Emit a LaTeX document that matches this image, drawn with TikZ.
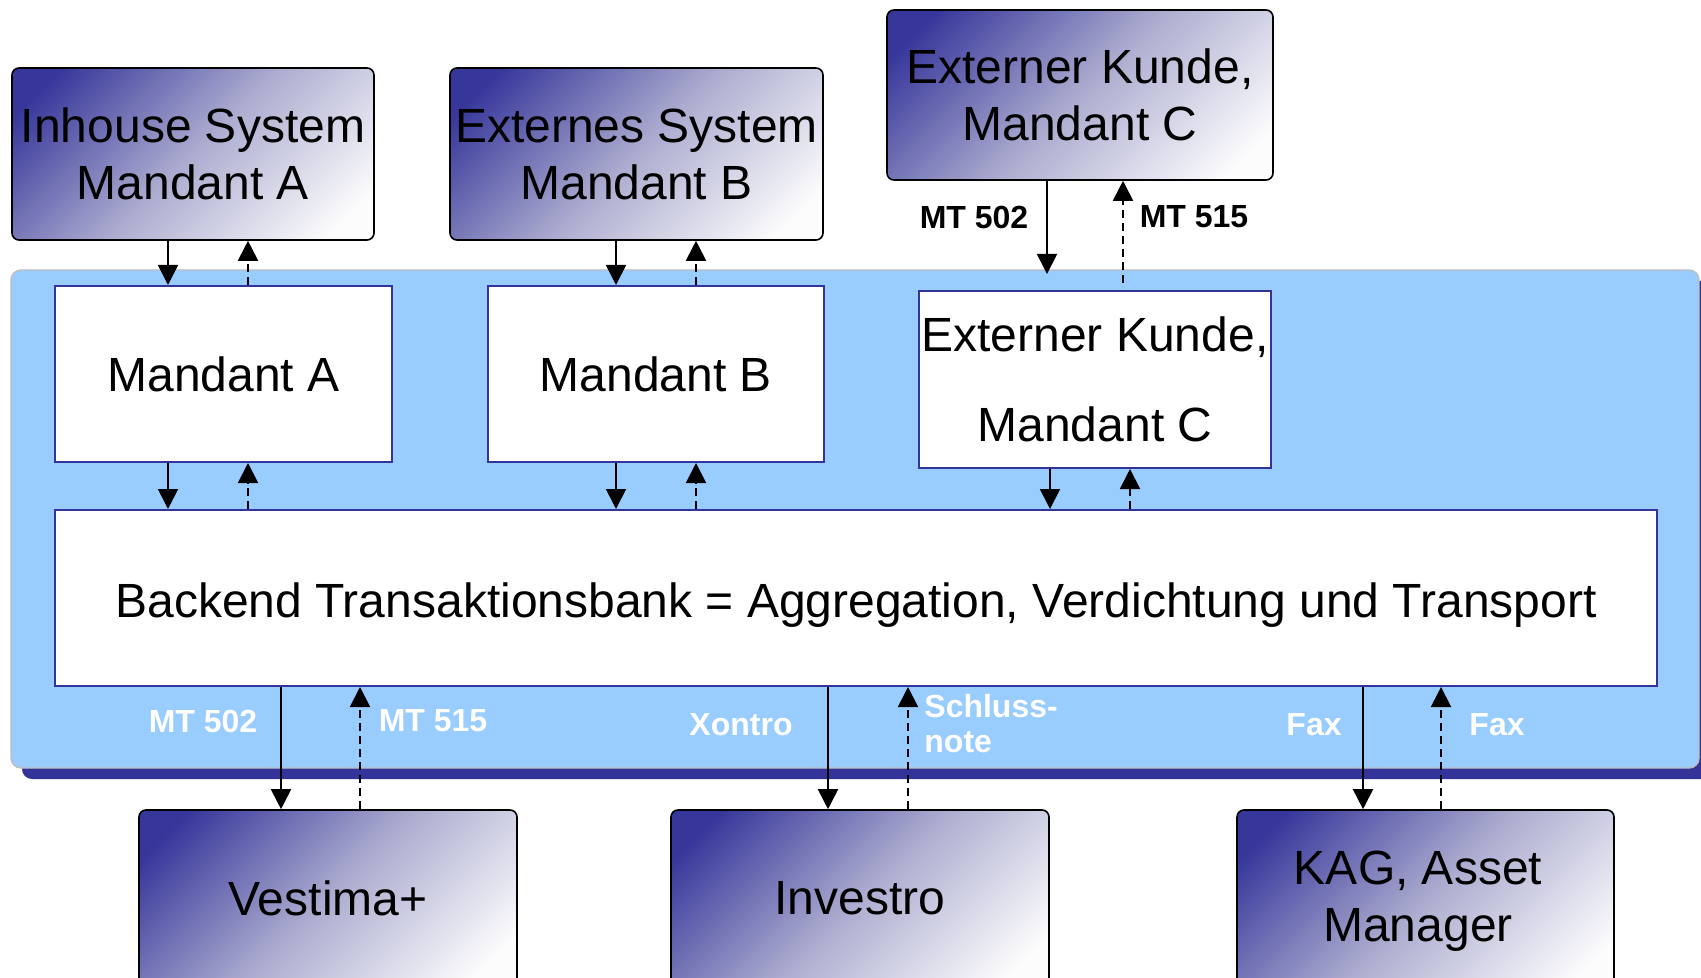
\documentclass[tikz,border=0pt]{standalone}
\usepackage{fontspec}
\setmainfont{Liberation Sans}
\usetikzlibrary{arrows.meta}
\definecolor{dkblue}{RGB}{51,51,153}
\definecolor{ltblue}{RGB}{153,204,255}
\definecolor{grayb}{RGB}{190,190,190}
\definecolor{gdark}{RGB}{55,55,155}
\definecolor{gmid}{RGB}{172,172,208}
\definecolor{glight}{RGB}{252,252,253}
\pgfdeclareverticalshading{sysgrad}{100bp}{color(0bp)=(glight); color(21bp)=(glight); color(50bp)=(gmid); color(79bp)=(gdark); color(100bp)=(gdark)}
\begin{document}
\begin{tikzpicture}[x=0.5pt,y=-0.5pt,
  sysbox/.style={draw=black, line width=0.8pt, rounded corners=3.5pt,
    shade, shading=sysgrad, shading angle=45,
    inner sep=0pt, align=center, font=\fontsize{24}{28.5}\selectfont},
  inbox/.style={draw=dkblue, fill=white, line width=1pt, inner sep=0pt,
    align=center, font=\fontsize{24}{28.5}\selectfont},
  arr/.style={-{Triangle[width=10pt,length=10pt]}, line width=0.9pt},
  darr/.style={arr, dash pattern=on 4pt off 2.5pt},
  toplbl/.style={font=\bfseries\fontsize{16}{17.5}\selectfont, inner sep=0pt},
  wlbl/.style={toplbl, text=white}]
\useasboundingbox (0,0) rectangle (1701,978);

% background region
\path[fill=dkblue, rounded corners=5pt] (22,281) rectangle (1711,779);
\path[fill=ltblue, draw=grayb, line width=0.7pt, rounded corners=5pt] (11,270) rectangle (1699,768);

% top systems
\node[sysbox, minimum width=181pt, minimum height=86pt] (inh) at (193,154) {Inhouse System\\Mandant A};
\node[sysbox, minimum width=186.5pt, minimum height=86pt] (ext) at (636.5,154) {Externes System\\Mandant B};
\node[sysbox, minimum width=193pt, minimum height=85pt] (kun) at (1080,95) {Externer Kunde,\\Mandant C};

% inner boxes
\node[inbox, minimum width=168.5pt, minimum height=88pt] (ma) at (223.5,374) {Mandant A};
\node[inbox, minimum width=168pt, minimum height=88pt] (mb) at (656,374) {Mandant B};
\node[inbox, minimum width=176pt, minimum height=88.5pt, font=\fontsize{24}{45}\selectfont] (mc) at (1095,379.5) {Externer Kunde,\\Mandant C};
\node[inbox, minimum width=801pt, minimum height=88pt] (be) at (856,598) {\raisebox{-3.5pt}[\height][\depth]{Backend Transaktionsbank = Aggregation, Verdichtung und Transport}};

% bottom systems (cut off by the lower page edge)
\node[sysbox, minimum width=189pt, minimum height=88pt] (ves) at (328,898) {Vestima+};
\node[sysbox, minimum width=189pt, minimum height=88pt] (inv) at (860,898) {Investro};
\node[sysbox, minimum width=188.5pt, minimum height=91pt] (kag) at (1425.5,901) {KAG, Asset\hspace*{7.5pt}\\Manager\hspace*{7.5pt}};

% x positions of connectors
\coordinate (xa1) at (168,0);   \coordinate (xa2) at (248,0);
\coordinate (xb1) at (616,0);   \coordinate (xb2) at (696,0);
\coordinate (xc1) at (1050,0);  \coordinate (xc2) at (1130,0);
\coordinate (xv1) at (281,0);   \coordinate (xv2) at (360,0);
\coordinate (xi1) at (828,0);   \coordinate (xi2) at (908,0);
\coordinate (xk1) at (1363,0);  \coordinate (xk2) at (1441,0);
\coordinate (kdn) at (1047,274);
\coordinate (kup) at (1123,283);

% top connectors
\draw[arr]  (xa1 |- inh.south) -- (xa1 |- ma.north);
\draw[darr] (xa2 |- ma.north) -- (xa2 |- inh.south);
\draw[arr]  (xb1 |- ext.south) -- (xb1 |- mb.north);
\draw[darr] (xb2 |- mb.north) -- (xb2 |- ext.south);
\draw[arr]  (kdn |- kun.south) -- (kdn);
\draw[darr] (kup) -- (kup |- kun.south);

% inner to backend
\draw[arr]  (xa1 |- ma.south) -- (xa1 |- be.north);
\draw[darr] (xa2 |- be.north) -- (xa2 |- ma.south);
\draw[arr]  (xb1 |- mb.south) -- (xb1 |- be.north);
\draw[darr] (xb2 |- be.north) -- (xb2 |- mb.south);
\draw[arr]  (xc1 |- mc.south) -- (xc1 |- be.north);
\draw[darr] (xc2 |- be.north) -- (xc2 |- mc.south);

% backend to bottom systems
\draw[arr]  (xv1 |- be.south) -- (xv1 |- ves.north);
\draw[darr] (xv2 |- ves.north) -- (xv2 |- be.south);
\draw[arr]  (xi1 |- be.south) -- (xi1 |- inv.north);
\draw[darr] (xi2 |- inv.north) -- (xi2 |- be.south);
\draw[arr]  (xk1 |- be.south) -- (xk1 |- kag.north);
\draw[darr] (xk2 |- kag.north) -- (xk2 |- be.south);

% labels
\node[toplbl] (l1) at (974,217) {MT 502};
\node[toplbl] (l2) at (1194,217) {MT 515};
\node[wlbl] (l3) at (203,721) {MT 502};
\node[wlbl] (l4) at (433,721) {MT 515};
\node[wlbl] (l5) at (741,725) {Xontro};
\node[wlbl, anchor=west, align=left] (l6) at (924,723.5) {Schluss-\\note};
\node[wlbl] (l7) at (1314,725) {Fax};
\node[wlbl] (l8) at (1497,725) {Fax};
\end{tikzpicture}
\end{document}
